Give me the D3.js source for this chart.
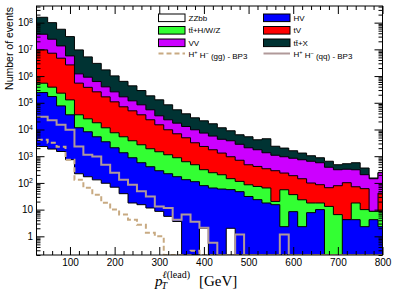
<!DOCTYPE html>
<html><head><meta charset="utf-8">
<script src="https://cdn.jsdelivr.net/npm/d3@7"></script>
<style>body{margin:0;background:#fff}svg{display:block}</style>
</head><body>
<svg id="c" width="399" height="300"></svg>
<script>
// ---- data ----
const binEdges = [10,30,50,70,90,110,130,150,170,190,210,230,250,270,290,310,330,350,370,390,410,430,450,470,490,510,530,550,570,590,610,630,650,670,690,710,730,750,770,790,810];
const xTickLabels = [100,200,300,400,500,600,700,800];
const yTickExponents = [0,1,2,3,4,5,6,7,8];

const ZZbb = [2300,2300,1850,1500,740,220,170,130,97,69,39.5,17.7,15.3,11.5,8.6,5.6,3.6,0,0,2,0,0,2,0,0,0,0,0,0,0,0,0,0,0,0,0,0,0,0,0];
const HV   = [239000,239000,169000,75000,34700,11400,8030,5200,3370,2000,1306,857,554,392,277,215,167,132,111,77,64.5,59,54,47,31,23.6,17.7,15.3,2.3,8.4,2.3,7.7,10,0,0,4.2,4.2,2.3,4.2,2.3];
const ttV  = [300000,300000,214000,153000,93000,23900,16900,12500,8100,5460,3990,2906,2110,1496,1181,912,705,488,368,233,176,143,88,67,54,50,47,5,53,28,21,10,7.7,13.2,6.5,0,13.5,7.7,4.4,6.3];
const tV   = [9.0e6,9.0e6,6.8e6,4.44e6,2.49e6,508000,353000,239000,155000,101000,65300,46200,32800,21200,13500,8610,6030,4274,2704,2002,1502,1110,810,592,393,340,275,266,179,150,120,81.5,68,53,72,97.5,54,51,0,33];
const VV   = [2.73e7,2.73e7,1.68e7,8.8e6,3.07e6,666000,532000,366000,228000,148000,96300,68300,48400,31500,17550,13300,10400,8056,6563,5021,3924,2990,2827,2091,1590,1329,1006,799,719,652,593,548,483,320,233,224,239,142,135,199];
const ttX  = [1.22e8,1.22e8,7.6e7,4.32e7,2.43e7,8.33e6,4.31e6,2.36e6,1.31e6,760000,467000,312000,203000,127000,96400,60800,37200,25700,17600,13800,10700,7280,5160,3541,3267,2378,3145,1270,1063,761,575,392,306,261,168,197,258,158,8.9,6.3];
const HHgg = [4120,4120,3180,2260,737,132,66,36,18.2,10,6.5,4.2,2.74,1.37,1.0,0,0,0,0.29,0,0,0,0,0,0,0,0,0,0,0,0,0,0,0,0,0,0,0,0,0];
const HHqq = [29800,29800,22100,15000,9750,2310,1130,980,479,241,132,85.6,48.9,31.3,13.2,11.5,4.2,6.5,3.5,2.1,0.57,0,0,1.16,0,0,0,0,1.16,0,0,0,0,0,0,0,0,0,0,0];

const stackNames  = ["ZZbb","HV","tt\u0304+H/W/Z","tV","VV","tt\u0304+X"];
const stackColors = ["#ffffff","#0000ff","#33ff33","#ff0000","#cc00ff","#003333"];
const stackSeries = [ZZbb,HV,ttV,tV,VV,ttX];

// ---- layout ----
const L=36.5, R=382.5, T=6, B=255;
const yMin=0.2, yMax=4.2e8;
const x = d3.scaleLinear().domain([25,800]).range([L,R]);
const y = d3.scaleLog().domain([yMin,yMax]).range([B,T]);
const svg = d3.select("#c");
svg.append("defs").append("clipPath").attr("id","clip")
  .append("rect").attr("x",L).attr("y",T).attr("width",R-L).attr("height",B-T);
const plot = svg.append("g").attr("clip-path","url(#clip)");

const yv = v => y(Math.max(v,yMin));
function pts(vals){ return binEdges.map((e,i)=>({e, v: vals[Math.min(i, vals.length-1)]})); }
const area = d3.area().x(d=>x(d.e)).y0(B).y1(d=>yv(d.v)).curve(d3.curveStepAfter);
const line = d3.line().x(d=>x(d.e)).y(d=>yv(d.v)).curve(d3.curveStepAfter);

// cumulative stacks
let cum = ZZbb.map(()=>0);
const cums = stackSeries.map(s => { cum = cum.map((c,i)=>c+s[i]); return cum.slice(); });
for (let j=cums.length-1; j>=0; j--){
  plot.append("path").attr("d", area(pts(cums[j]))).attr("fill", stackColors[j]);
  plot.append("path").attr("d", line(pts(cums[j]))).attr("fill","none").attr("stroke","#000").attr("stroke-width",1);
}
plot.append("path").attr("d", line(pts(HHqq))).attr("fill","none").attr("stroke","#b09999").attr("stroke-width",2);
plot.append("path").attr("d", line(pts(HHgg))).attr("fill","none").attr("stroke","#c8aa82").attr("stroke-width",2).attr("stroke-dasharray","5,3");

// ---- axes ----
const xMinor = d3.range(40,801,20).filter(v=>v%100!==0);
const yMajor = yTickExponents.map(e=>Math.pow(10,e));
const yMinor = [];
for (let e=-1;e<=8;e++) for (let m=2;m<=9;m++){ const v=m*Math.pow(10,e); if (v>=yMin && v<=yMax) yMinor.push(v); }

const axB = svg.append("g").attr("transform",`translate(0,${B})`)
  .call(d3.axisBottom(x).tickValues(xTickLabels).tickSizeInner(-8).tickSizeOuter(0).tickPadding(3.5).tickFormat(d3.format("d")));
svg.append("g").attr("transform",`translate(0,${B})`)
  .call(d3.axisBottom(x).tickValues(xMinor).tickSizeInner(-4).tickSizeOuter(0).tickFormat(""));
svg.append("g").attr("transform",`translate(0,${T})`)
  .call(d3.axisTop(x).tickValues(xTickLabels).tickSizeInner(-8).tickSizeOuter(0).tickFormat(""));
svg.append("g").attr("transform",`translate(0,${T})`)
  .call(d3.axisTop(x).tickValues(xMinor).tickSizeInner(-4).tickSizeOuter(0).tickFormat(""));
const axL = svg.append("g").attr("transform",`translate(${L},0)`)
  .call(d3.axisLeft(y).tickValues(yMajor).tickSizeInner(-8).tickSizeOuter(0).tickPadding(3.5).tickFormat(""));
svg.append("g").attr("transform",`translate(${L},0)`)
  .call(d3.axisLeft(y).tickValues(yMinor).tickSizeInner(-4).tickSizeOuter(0).tickFormat(""));
svg.append("g").attr("transform",`translate(${R},0)`)
  .call(d3.axisRight(y).tickValues(yMajor).tickSizeInner(-8).tickSizeOuter(0).tickFormat(""));
svg.append("g").attr("transform",`translate(${R},0)`)
  .call(d3.axisRight(y).tickValues(yMinor).tickSizeInner(-4).tickSizeOuter(0).tickFormat(""));
svg.selectAll(".domain").remove();
svg.selectAll(".tick line").attr("stroke","#000").attr("stroke-width",1);

axB.selectAll("text").attr("font-family","Liberation Sans, Arial, sans-serif").attr("font-size",10).attr("fill","#000");
axL.selectAll(".tick").each(function(d){
  const e = Math.round(Math.log10(d));
  const t = d3.select(this).append("text").attr("x",-3.5).attr("dy","0.32em")
    .attr("text-anchor","end").attr("font-family","Liberation Sans, Arial, sans-serif")
    .attr("font-size",10).attr("fill","#000");
  if (e===0) t.text("1");
  else if (e===1) t.text("10");
  else { t.append("tspan").text("10"); t.append("tspan").attr("font-size",7).attr("dy","-0.45em").text(String(e)); }
});

// frame
svg.append("rect").attr("x",L).attr("y",T).attr("width",R-L).attr("height",B-T)
  .attr("fill","none").attr("stroke","#000").attr("stroke-width",1);

// ---- axis titles ----
svg.append("text").attr("transform","translate(12.5,48.5) rotate(-90)").attr("text-anchor","middle")
  .attr("font-family","Liberation Sans, Arial, sans-serif").attr("font-size",10.5).text("Number of events");
const xt = svg.append("g").attr("font-family","Liberation Serif, Times New Roman, serif");
xt.append("text").attr("x",155).attr("y",285.5).attr("font-size",15).attr("font-style","italic").text("p");
xt.append("text").attr("x",161.5).attr("y",289).attr("font-size",10).attr("font-style","italic").text("T");
const sup = xt.append("text").attr("x",162.5).attr("y",277.5).attr("font-size",10);
sup.append("tspan").attr("font-style","italic").text("\u2113");
sup.append("tspan").text("(lead)");
xt.append("text").attr("x",199).attr("y",286).attr("font-size",15).text("[GeV]");

// ---- legend ----
const lg = svg.append("g").attr("font-family","Liberation Sans, Arial, sans-serif").attr("font-size",8);
const rows = [17.8,30.3,42.8];
const cols = [158.5,263.5];
const legOrder = [[0,2,4],[1,3,5]];
legOrder.forEach((col,ci)=>col.forEach((si,ri)=>{
  lg.append("rect").attr("x",cols[ci]).attr("y",rows[ri]-3.8).attr("width",26.5).attr("height",7.6)
    .attr("fill",stackColors[si]).attr("stroke","#000").attr("stroke-width",1);
  lg.append("text").attr("x",cols[ci]+30).attr("y",rows[ri]+3).text(stackNames[si]);
}));
const lineRow = 53.5;
[["#c8aa82","5,3","gg"],["#b09999",null,"qq"]].forEach((d,ci)=>{
  lg.append("line").attr("x1",cols[ci]).attr("x2",cols[ci]+26.5).attr("y1",lineRow).attr("y2",lineRow)
    .attr("stroke",d[0]).attr("stroke-width",2).attr("stroke-dasharray",d[1]);
  const t = lg.append("text").attr("x",cols[ci]+30).attr("y",lineRow+3);
  t.append("tspan").text("H");
  t.append("tspan").attr("font-size",5.5).attr("dy","-0.5em").text("+");
  t.append("tspan").attr("dy","0.5em").text(" H");
  t.append("tspan").attr("font-size",5.5).attr("dy","-0.5em").text("\u2212");
  t.append("tspan").attr("dy","0.5em").text(` (${d[2]}) - BP3`);
});
</script>
</body></html>
